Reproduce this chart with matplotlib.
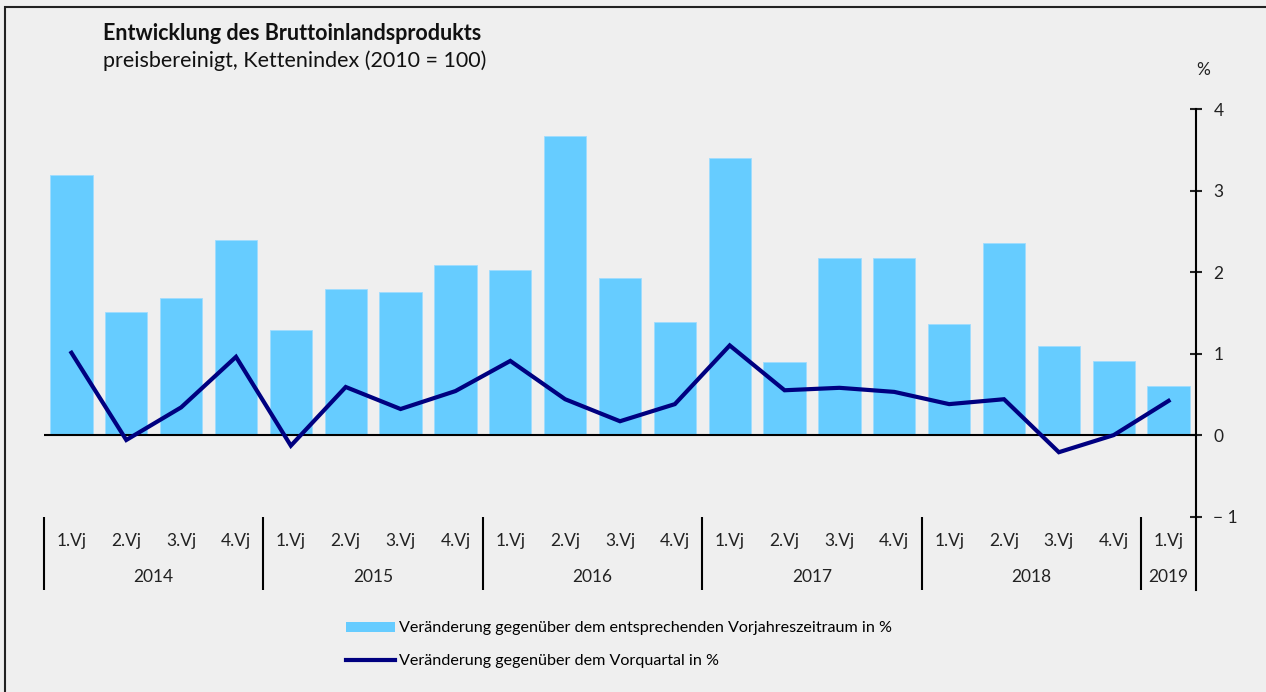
import numpy as np
import matplotlib
matplotlib.use("Agg")
import matplotlib.pyplot as plt
from matplotlib.patches import Rectangle, Patch
from matplotlib.lines import Line2D

plt.rcParams["font.family"] = ["Lato", "DejaVu Sans"]

quarters = ["1.Vj", "2.Vj", "3.Vj", "4.Vj"] * 5 + ["1.Vj"]
years = ["2014", "2015", "2016", "2017", "2018", "2019"]
year_len = [4, 4, 4, 4, 4, 1]

# change vs. same quarter of previous year, %
vorjahr = [3.19, 1.51, 1.68, 2.39, 1.29, 1.79, 1.75, 2.09, 2.02, 3.67, 1.93,
           1.39, 3.40, 0.90, 2.17, 2.17, 1.36, 2.36, 1.09, 0.91, 0.60]
# change vs. previous quarter, %
vorquartal = [1.01, -0.06, 0.34, 0.96, -0.13, 0.59, 0.32, 0.54, 0.91, 0.44,
              0.17, 0.38, 1.10, 0.55, 0.58, 0.53, 0.38, 0.44, -0.21, 0.0, 0.42]

bar_color = "#66CCFF"
line_color = "#000080"
bg = "#efefef"

fig = plt.figure(figsize=(12.66, 6.92), dpi=100, facecolor=bg)
ax = fig.add_axes([44 / 1266, 1 - 590 / 692, 1152 / 1266, 481 / 692])
ax.set_facecolor(bg)

x = np.arange(len(vorjahr))
ax.bar(x, vorjahr, width=0.77, color=bar_color, edgecolor="#9fdcff",
       linewidth=0.6, zorder=2)
ax.plot(x, vorquartal, color=line_color, lw=3.0, solid_joinstyle="miter",
        zorder=4)
ax.axhline(0, color="black", lw=1.5, zorder=3)

ax.set_xlim(-0.5, len(x) - 0.5)
ax.set_ylim(-1.9, 4)

for s in ["top", "left", "bottom"]:
    ax.spines[s].set_visible(False)
ax.spines["right"].set_linewidth(1.5)
ax.yaxis.tick_right()
ax.set_yticks([-1, 0, 1, 2, 3, 4])
ax.set_yticklabels(["\u2212 1", "0", "1", "2", "3", "4"])
ax.tick_params(axis="y", direction="inout", length=9, width=1.5,
               labelsize=12.5, pad=8, colors="#222222")
ax.set_xticks([])

# quarter and year labels beneath the chart
for i, q in enumerate(quarters):
    ax.text(i, -1.30, q, ha="center", va="center", fontsize=12.5,
            color="#222222")
start = 0
bounds = [-0.5]
for y, n in zip(years, year_len):
    ax.text(start + (n - 1) / 2, -1.74, y, ha="center", va="center",
            fontsize=12.5, color="#222222")
    start += n
    bounds.append(start - 0.5)
ax.vlines(bounds[:-1], -1.9, -1.0, color="black", lw=1.5, clip_on=False)

# title
fig.text(103 / 1266, 1 - 33 / 692, "Entwicklung des Bruttoinlandsprodukts",
         fontsize=15.5, fontweight="bold", va="center", color="#111111")
fig.text(103 / 1266, 1 - 61 / 692, "preisbereinigt, Kettenindex (2010 = 100)",
         fontsize=15.5, va="center", color="#111111")
fig.text(1203 / 1266, 1 - 70 / 692, "%", fontsize=12.5, ha="center",
         va="center", color="#222222")

handles = [Patch(facecolor=bar_color, edgecolor="none"),
           Line2D([0], [0], color=line_color, lw=3.0)]
labels = ["Veränderung gegenüber dem entsprechenden Vorjahreszeitraum in %",
          "Veränderung gegenüber dem Vorquartal in %"]
fig.legend(handles, labels, loc="upper left",
           bbox_to_anchor=(340 / 1266, 1 - 615 / 692), frameon=False,
           fontsize=11.6, handlelength=3.0, handleheight=0.6,
           handletextpad=0.25, labelspacing=1.15, borderaxespad=0)

# frame around the chart (cut at right and bottom as in the source)
fig.patches.append(Rectangle((5 / 1266, -0.1), 1.2, 1 - 7 / 692 + 0.1,
                             transform=fig.transFigure, fill=False,
                             edgecolor="#222222", lw=1.5))

fig.savefig("out.png", dpi=100, facecolor=bg)
